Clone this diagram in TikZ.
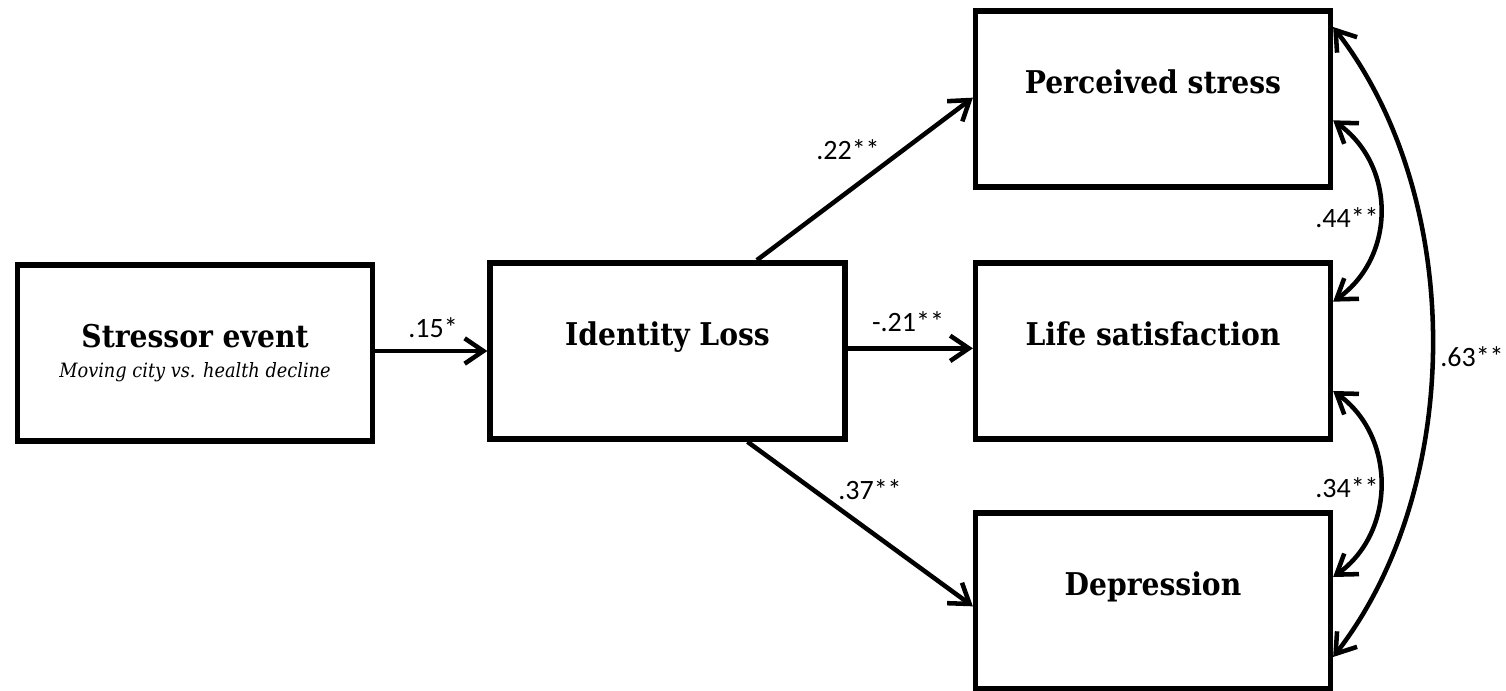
\documentclass[tikz,border=0pt]{standalone}
\usepackage{fontspec}
\setmainfont{DejaVu Serif Condensed}
\newfontfamily\lblfont{Carlito}
\usetikzlibrary{arrows.meta}
\newcommand{\subfnt}{\fontsize{14.8}{16}\selectfont\mdseries\itshape}
\begin{document}
\begin{tikzpicture}[x=0.75pt,y=-0.75pt,
  box/.style={draw, line width=4.2pt, minimum width=266pt, minimum height=132pt,
    align=center, inner sep=0pt, font=\fontsize{23.5}{20}\selectfont\bfseries},
  conn/.style={line width=3.4pt, -{Straight Barb[length=14pt,width=19pt]}},
  biconn/.style={line width=3.4pt, {Straight Barb[length=14pt,width=19pt]}-{Straight Barb[length=14pt,width=19pt]}},
  lbl/.style={font=\lblfont\fontsize{21}{22}\selectfont, inner sep=0pt}]
\useasboundingbox (0,0) rectangle (1506,691);
\fill[white] (0,0) rectangle (1506,691);

\node[box] (se) at (195,353) {Stressor event\\[2pt]{\subfnt Moving city vs. health decline}};
\node[box] (il) at (667.5,351) {Identity Loss\\[2pt]{\subfnt\strut}};
\node[box] (ps) at (1153,99) {Perceived stress\\[2pt]{\subfnt\strut}};
\node[box] (ls) at (1153,351) {Life satisfaction\\[2pt]{\subfnt\strut}};
\node[box] (dp) at (1153,601) {Depression\\[2pt]{\subfnt\strut}};

\draw[conn] ([yshift=1.5pt]se.east) -- (il.west);
\draw[conn] ([xshift=67pt]il.north) -- ([yshift=1pt]ps.west);
\draw[conn] ([yshift=2pt]il.east) -- ([yshift=2pt]ls.west);
\draw[conn] ([xshift=60pt]il.south) -- ([yshift=-4pt]dp.west);

\draw[biconn] ([yshift=-16pt]ps.east) .. controls +(63,45) and +(63,-45) .. ([yshift=37pt]ls.east);
\draw[biconn] ([yshift=-30pt]ls.east) .. controls +(63,45) and +(63,-45) .. ([yshift=18pt]dp.east);
\draw[biconn] ([yshift=54pt]ps.east) .. controls +(132,170) and +(132,-170) .. ([yshift=-42pt]dp.east);

\node[lbl] (l15) at (433,328) {.15*};
\node[lbl] (l22) at (848,150) {.22**};
\node[lbl] (l21) at (908,322) {-.21**};
\node[lbl] (l37) at (870,490) {.37**};
\node[lbl] (l44) at (1347,218) {.44**};
\node[lbl] (l34) at (1347,488) {.34**};
\node[lbl] (l63) at (1472,357) {.63**};
\end{tikzpicture}
\end{document}
